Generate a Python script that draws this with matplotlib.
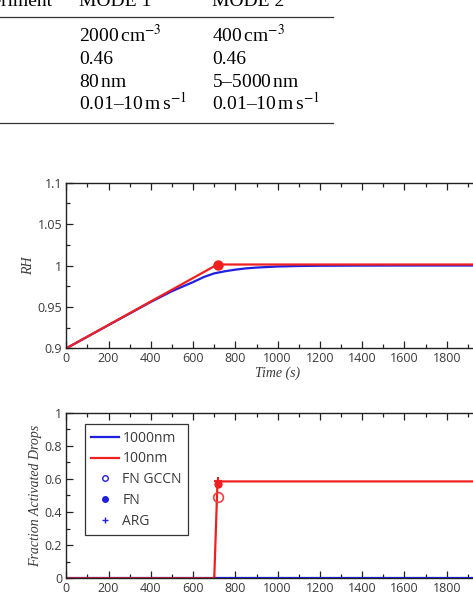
import matplotlib
matplotlib.use("Agg")
import matplotlib.pyplot as plt
from matplotlib.lines import Line2D
from matplotlib.ticker import MultipleLocator

plt.rcParams['mathtext.fontset'] = 'stix'

# table fragment (top of the page crop)
table_header = ["Experiment", "MODE 1", "MODE 2"]
mode1_rows = [r"2000$\,$cm$^{-3}$", "0.46", "80$\\,$nm", r"0.01–10$\,$m$\,$s$^{-1}$"]
mode2_rows = [r"400$\,$cm$^{-3}$", "0.46", "5–5000$\\,$nm", r"0.01–10$\,$m$\,$s$^{-1}$"]

# RH panel
rh_t_blue = [0, 100, 200, 300, 400, 500, 600, 650, 700, 750, 800, 850, 900, 1000, 1100, 1200, 1400, 1700, 2000]
rh_blue = [0.900, 0.914, 0.928, 0.942, 0.956, 0.969, 0.980, 0.986, 0.9905, 0.993, 0.995, 0.9965, 0.9975, 0.9988, 0.9994, 0.9997, 0.9999, 1.0000, 1.0000]
rh_t_red = [0, 715, 2000]
rh_red = [0.900, 1.0012, 1.0012]
rh_marker_t, rh_marker_v = 720, 1.0012

# activated fraction panel
fr_t_blue = [0, 2000]
fr_blue = [0.0, 0.0]
fr_t_red = [0, 700, 715, 725, 2000]
fr_red = [0.0, 0.0, 0.57, 0.585, 0.585]
fn_gccn_t, fn_gccn_v = 718, 0.49
fn_t, fn_v = 718, 0.57
arg_t, arg_v = 720, 0.585

W, H = 473, 593
fig = plt.figure(figsize=(W / 100, H / 100), dpi=100)

serif = 'Liberation Serif'
tick_font = 'Open Sans'
grey = '#3a3a3a'


def fx(px):
    return px / W


def fy(py):
    return 1 - py / H


# --- table ---
tfs = 14
fig.text(fx(53), fy(6), table_header[0], ha='right', va='baseline', fontsize=tfs, family=serif)
fig.text(fx(79), fy(6), table_header[1], ha='left', va='baseline', fontsize=tfs, family=serif)
fig.text(fx(212), fy(6), table_header[2], ha='left', va='baseline', fontsize=tfs, family=serif)
fig.add_artist(Line2D([0, fx(333)], [fy(17.3), fy(17.3)], color='#333333', lw=0.9))
fig.add_artist(Line2D([0, fx(333)], [fy(123.3), fy(123.3)], color='#333333', lw=0.9))
row_base = [42, 64, 87, 110]
for yb, a, b in zip(row_base, mode1_rows, mode2_rows):
    fig.text(fx(79), fy(yb), a, ha='left', va='baseline', fontsize=tfs, family=serif)
    fig.text(fx(212), fy(yb), b, ha='left', va='baseline', fontsize=tfs, family=serif)

# --- axes ---
ax_w = (489 - 66.3) / W
ax_h = 165.6 / H
ax1 = fig.add_axes([66.3 / W, (H - 348.3) / H, ax_w, ax_h])
ax2 = fig.add_axes([66.3 / W, (H - 578.3) / H, ax_w, ax_h])


def style(ax):
    ax.set_xlim(0, 2000)
    ax.xaxis.set_major_locator(MultipleLocator(200))
    ax.xaxis.set_minor_locator(MultipleLocator(100))
    ax.tick_params(which='both', direction='in', top=True, right=True, colors='#222222',
                   labelcolor=grey, labelsize=9, pad=3)
    ax.tick_params(which='major', length=5, width=0.9)
    ax.tick_params(which='minor', length=3, width=0.9)
    for s in ax.spines.values():
        s.set_linewidth(1.0)
        s.set_color('#222222')
    for lab in ax.get_xticklabels() + ax.get_yticklabels():
        lab.set_family(tick_font)


ax1.plot(rh_t_blue, rh_blue, color='#1f1fe0', lw=1.6)
ax1.plot(rh_t_red, rh_red, color='#f02020', lw=1.6)
ax1.plot([rh_marker_t], [rh_marker_v], 'o', color='#f02020', ms=6.5)
ax1.set_ylim(0.9, 1.1)
ax1.yaxis.set_minor_locator(MultipleLocator(0.025))
ax1.set_yticks([0.9, 0.95, 1.0, 1.05, 1.1])
ax1.set_yticklabels(['0.9', '0.95', '1', '1.05', '1.1'])
style(ax1)
ax1.set_xlabel('Time (s)', family=serif, style='italic', fontsize=10, color=grey, labelpad=1)
ax1.set_ylabel('RH', family=serif, style='italic', fontsize=10, color=grey)
ax1.yaxis.set_label_coords(-31 / (ax_w * W), 0.5)

ax2.plot(fr_t_blue, fr_blue, color='#1f1fe0', lw=1.6, label='1000nm')
ax2.plot(fr_t_red, fr_red, color='#f02020', lw=1.6, label='100nm')
ax2.plot([fn_gccn_t], [fn_gccn_v], 'o', mfc='none', mec='#f04040', ms=7, mew=1.2)
ax2.plot([fn_t], [fn_v], 'o', color='#f02020', ms=5)
ax2.plot([arg_t], [arg_v], '+', color='#f02020', ms=6, mew=1.5)
ax2.set_ylim(0, 1)
ax2.yaxis.set_minor_locator(MultipleLocator(0.1))
ax2.set_yticks([0, 0.2, 0.4, 0.6, 0.8, 1.0])
ax2.set_yticklabels(['0', '0.2', '0.4', '0.6', '0.8', '1'])
style(ax2)
ax2.set_ylabel('Fraction Activated Drops', family=serif, style='italic', fontsize=10, color=grey)
ax2.yaxis.set_label_coords(-24 / (ax_w * W), 0.5)

handles = [
    Line2D([], [], color='#1f1fe0', lw=1.6),
    Line2D([], [], color='#f02020', lw=1.6),
    Line2D([], [], ls='none', marker='o', mfc='none', mec='#1f1fe0', ms=4, mew=1.0),
    Line2D([], [], ls='none', marker='o', color='#1f1fe0', ms=4),
    Line2D([], [], ls='none', marker='+', color='#1f1fe0', ms=5, mew=1.0),
]
leg = ax2.legend(handles, ['1000nm', '100nm', 'FN GCCN', 'FN', 'ARG'],
                 loc='upper left', bbox_to_anchor=(18.7 / (ax_w * W), 0.93), fancybox=False,
                 edgecolor='#333333', framealpha=1, prop={'family': tick_font, 'size': 10},
                 handlelength=2.0, labelspacing=0.42, borderpad=0.45, handletextpad=0.25,
                 borderaxespad=0)
leg.get_frame().set_linewidth(0.9)
for t in leg.get_texts():
    t.set_color(grey)

fig.savefig('out.png', dpi=100)
